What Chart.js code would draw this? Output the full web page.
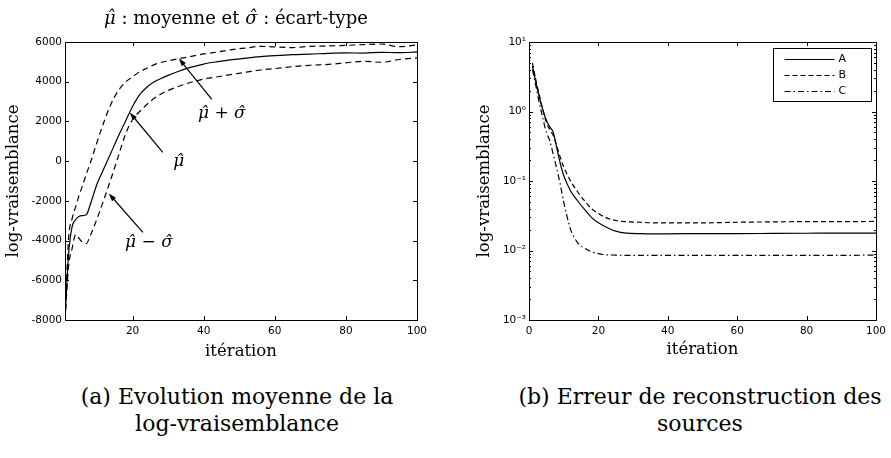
<!DOCTYPE html>
<html>
<head>
<meta charset="utf-8">
<script src="https://cdn.jsdelivr.net/npm/chart.js@4"></script>
<style>
  body { margin: 0; background: #fff; width: 891px; height: 458px; position: relative; overflow: hidden;
         font-family: "DejaVu Serif", serif; color: #000; }
  canvas { position: absolute; top: 0; }
  #chart-a { left: 0; }
  #chart-b { left: 445px; }
  .txt { position: absolute; text-align: center; white-space: nowrap; }
  #title { left: 0; width: 472px; top: 7px; font-size: 18px; line-height: 21px; }
  .cap { top: 383px; font-size: 22px; line-height: 27px; }
  #cap-a { left: 0; width: 474px; }
  #cap-b { left: 458px; width: 484px; }
</style>
</head>
<body>
<canvas id="chart-a" width="445" height="380"></canvas>
<canvas id="chart-b" width="446" height="380"></canvas>
<div id="title" class="txt"><i>μ̂</i> : moyenne et <i>σ̂</i> : écart-type</div>
<div id="cap-a" class="txt cap">(a) Evolution moyenne de la<br>log-vraisemblance</div>
<div id="cap-b" class="txt cap">(b) Erreur de reconstruction des<br>sources</div>
<script>
// (a) mean log-likelihood +/- std
const iterA = [1, 2, 3, 4, 5, 6, 7, 8, 10, 12, 14, 16, 18, 20, 22, 24, 26, 28, 30, 33, 36, 40,
  44, 48, 52, 56, 60, 65, 70, 75, 80, 85, 90, 95, 100];
const meanA = [-8000, -4700, -3300, -2950, -2780, -2740, -2700, -2250, -1150, -350, 450, 1250, 2000,
  2750, 3350, 3720, 3980, 4160, 4320, 4530, 4710, 4890, 5010, 5110, 5190, 5260, 5310, 5360, 5390,
  5430, 5450, 5440, 5480, 5460, 5500];
const upperA = [-8000, -3900, -2900, -2300, -1700, -1200, -650, -150, 950, 2000, 2900, 3550, 3980,
  4250, 4500, 4680, 4850, 4970, 5050, 5160, 5260, 5400, 5500, 5620, 5700, 5780, 5750, 5720, 5780,
  5800, 5830, 5870, 5900, 5760, 5850];
const lowerA = [-8000, -5300, -4400, -3700, -3900, -4100, -4150, -3800, -2900, -1900, -850, 250,
  1350, 2100, 2500, 2850, 3150, 3380, 3560, 3770, 3950, 4130, 4250, 4370, 4480, 4590, 4660, 4760,
  4830, 4870, 4950, 5030, 4980, 5120, 5200];
const xTicksA = [20, 40, 60, 80, 100];
const yTicksA = [-8000, -6000, -4000, -2000, 0, 2000, 4000, 6000];

// annotations of (a), in data units
const notesA = [
  { text: [["μ̂", 1], [" + ", 0], ["σ̂", 1]], at: [45.1, 2400], tail: [42.3, 3110], tip: [33.0, 5176] },
  { text: [["μ̂", 1]], at: [33.0, -15], tail: [28.5, 440], tip: [19.2, 2455] },
  { text: [["μ̂", 1], [" − ", 0], ["σ̂", 1]], at: [24.6, -4100], tail: [22.9, -3590], tip: [13.3, -1630] },
];

// (b) reconstruction error
const iterB = [1, 2, 3, 4, 5, 6, 7, 8, 9, 10, 12, 14, 16, 18, 20, 22, 25, 28, 32, 36, 40, 50, 60,
  70, 80, 90, 100];
const errA = [4.5, 2.6, 1.6, 1.05, 0.75, 0.6, 0.5, 0.3, 0.18, 0.12, 0.072, 0.052, 0.039, 0.03,
  0.025, 0.022, 0.019, 0.0178, 0.0175, 0.0174, 0.0174, 0.0175, 0.0175, 0.0176, 0.0177, 0.0178, 0.0178];
const errB = [5, 2.8, 1.7, 1.05, 0.7, 0.55, 0.45, 0.32, 0.22, 0.16, 0.1, 0.07, 0.052, 0.04, 0.034,
  0.03, 0.027, 0.026, 0.0255, 0.025, 0.025, 0.025, 0.0255, 0.0258, 0.026, 0.026, 0.0262];
const errC = [4, 2.3, 1.3, 0.8, 0.5, 0.38, 0.24, 0.15, 0.09, 0.05, 0.02, 0.013, 0.0108, 0.0096,
  0.009, 0.0087, 0.0086, 0.0085, 0.0085, 0.0085, 0.0085, 0.0085, 0.0085, 0.0085, 0.0085, 0.0085, 0.0086];
const namesB = ["A", "B", "C"];
const xTicksB = [0, 20, 40, 60, 80, 100];
const yTicksB = [0.001, 0.01, 0.1, 1, 10];
const yLabelsB = ["10⁻³", "10⁻²", "10⁻¹", "10⁰", "10¹"];

const tickFont = { family: "DejaVu Sans", size: 10.5 };
const labelFont = { family: "DejaVu Serif", size: 16.5 };

const pts = (xs, ys) => xs.map((x, i) => ({ x, y: ys[i] }));

const line = (label, data, dash) => ({
  label,
  data,
  borderColor: "#000",
  borderWidth: 1.2,
  borderDash: dash,
  pointRadius: 0,
  fill: false,
  cubicInterpolationMode: "monotone",
});

// box round the plot + inward ticks, matlab style
const frame = {
  id: "frame",
  afterDatasetsDraw(chart, args, opts) {
    const { ctx, chartArea: a, scales } = chart;
    ctx.save();
    ctx.strokeStyle = "#000";
    ctx.lineWidth = 1;
    ctx.strokeRect(Math.round(a.left) + 0.5, Math.round(a.top) + 0.5,
      Math.round(a.right - a.left), Math.round(a.bottom - a.top));
    ctx.beginPath();
    for (const t of scales.x.ticks) {
      const px = Math.round(scales.x.getPixelForValue(t.value)) + 0.5;
      ctx.moveTo(px, a.bottom); ctx.lineTo(px, a.bottom - 4);
      ctx.moveTo(px, a.top); ctx.lineTo(px, a.top + 4);
    }
    for (const t of scales.y.ticks) {
      const py = Math.round(scales.y.getPixelForValue(t.value)) + 0.5;
      ctx.moveTo(a.left, py); ctx.lineTo(a.left + 4, py);
      ctx.moveTo(a.right, py); ctx.lineTo(a.right - 4, py);
    }
    if (opts.minor) {
      for (let k = 0; k < yTicksB.length - 1; k++) {
        for (let m = 2; m < 10; m++) {
          const py = Math.round(scales.y.getPixelForValue(yTicksB[k] * m)) + 0.5;
          ctx.moveTo(a.left, py); ctx.lineTo(a.left + 2, py);
          ctx.moveTo(a.right, py); ctx.lineTo(a.right - 2, py);
        }
      }
    }
    ctx.stroke();
    ctx.restore();
  },
};

const arrows = {
  id: "arrows",
  afterDatasetsDraw(chart) {
    const { ctx, scales: { x, y } } = chart;
    ctx.save();
    ctx.strokeStyle = "#000";
    ctx.fillStyle = "#000";
    ctx.lineWidth = 1.2;
    for (const n of notesA) {
      const x0 = x.getPixelForValue(n.tail[0]), y0 = y.getPixelForValue(n.tail[1]);
      const x1 = x.getPixelForValue(n.tip[0]), y1 = y.getPixelForValue(n.tip[1]);
      const ang = Math.atan2(y1 - y0, x1 - x0);
      ctx.beginPath();
      ctx.moveTo(x0, y0);
      ctx.lineTo(x1 - 5 * Math.cos(ang), y1 - 5 * Math.sin(ang));
      ctx.stroke();
      ctx.beginPath();
      ctx.moveTo(x1, y1);
      ctx.lineTo(x1 - 8 * Math.cos(ang) + 2.6 * Math.sin(ang), y1 - 8 * Math.sin(ang) - 2.6 * Math.cos(ang));
      ctx.lineTo(x1 - 8 * Math.cos(ang) - 2.6 * Math.sin(ang), y1 - 8 * Math.sin(ang) + 2.6 * Math.cos(ang));
      ctx.closePath();
      ctx.fill();

      // label: italic symbols, upright operators
      const fontOf = (it) => (it ? "italic " : "") + "17px 'DejaVu Serif'";
      let w = 0;
      for (const [s, it] of n.text) { ctx.font = fontOf(it); w += ctx.measureText(s).width; }
      let cx = x.getPixelForValue(n.at[0]) - w / 2;
      const cy = y.getPixelForValue(n.at[1]);
      ctx.textBaseline = "middle";
      ctx.textAlign = "left";
      for (const [s, it] of n.text) {
        ctx.font = fontOf(it);
        ctx.fillText(s, cx, cy);
        cx += ctx.measureText(s).width;
      }
    }
    ctx.restore();
  },
};

const boxLegend = {
  id: "boxLegend",
  afterDatasetsDraw(chart) {
    const { ctx, chartArea: a } = chart;
    const w = 98, h = 53;
    const x0 = Math.round(a.right - 5 - w) + 0.5, y0 = Math.round(a.top + 6) + 0.5;
    ctx.save();
    ctx.fillStyle = "#fff";
    ctx.fillRect(x0, y0, w, h);
    ctx.strokeStyle = "#000";
    ctx.lineWidth = 1;
    ctx.strokeRect(x0, y0, w, h);
    chart.data.datasets.forEach((ds, i) => {
      const ry = Math.round(y0 + 10 + i * 16) + 0.5;
      ctx.setLineDash(ds.borderDash || []);
      ctx.lineWidth = ds.borderWidth;
      ctx.beginPath();
      ctx.moveTo(x0 + 11, ry);
      ctx.lineTo(x0 + 61, ry);
      ctx.stroke();
      ctx.setLineDash([]);
      ctx.fillStyle = "#000";
      ctx.font = "11px 'DejaVu Sans'";
      ctx.textBaseline = "middle";
      ctx.fillText(ds.label, x0 + 65, ry);
    });
    ctx.restore();
  },
};

new Chart(document.getElementById("chart-a"), {
  type: "line",
  data: {
    datasets: [
      line("mu", pts(iterA, meanA), []),
      line("mu+sigma", pts(iterA, upperA), [6, 4]),
      line("mu-sigma", pts(iterA, lowerA), [6, 4]),
    ],
  },
  options: {
    responsive: false,
    animation: false,
    devicePixelRatio: 1,
    layout: { padding: { top: 42, right: 28, left: 0, bottom: 0 } },
    plugins: { legend: { display: false }, tooltip: { enabled: false }, frame: {} },
    scales: {
      x: {
        type: "linear", min: 1, max: 100,
        grid: { display: false, drawTicks: false }, border: { display: false },
        afterBuildTicks: (s) => { s.ticks = xTicksA.map((v) => ({ value: v })); },
        afterFit: (s) => { s.height = 60; },
        ticks: { color: "#000", font: tickFont, padding: 5, maxRotation: 0 },
        title: { display: true, text: "itération", color: "#000", font: labelFont, padding: { top: 0, bottom: 18 } },
      },
      y: {
        min: -8000, max: 6000,
        grid: { display: false, drawTicks: false }, border: { display: false },
        afterBuildTicks: (s) => { s.ticks = yTicksA.map((v) => ({ value: v })); },
        afterFit: (s) => { s.width = 65; },
        ticks: { color: "#000", font: tickFont, padding: 3, callback: (v) => String(v) },
        title: { display: true, text: "log-vraisemblance", color: "#000", font: labelFont, padding: { top: 4, bottom: 0 } },
      },
    },
  },
  plugins: [frame, arrows],
});

new Chart(document.getElementById("chart-b"), {
  type: "line",
  data: {
    datasets: [
      line(namesB[0], pts(iterB, errA), []),
      line(namesB[1], pts(iterB, errB), [5, 3]),
      line(namesB[2], pts(iterB, errC), [6, 3, 1.5, 3]),
    ],
  },
  options: {
    responsive: false,
    animation: false,
    devicePixelRatio: 1,
    layout: { padding: { top: 42, right: 11, left: 0, bottom: 0 } },
    plugins: { legend: { display: false }, tooltip: { enabled: false }, frame: { minor: true } },
    scales: {
      x: {
        type: "linear", min: 0, max: 100,
        grid: { display: false, drawTicks: false }, border: { display: false },
        afterBuildTicks: (s) => { s.ticks = xTicksB.map((v) => ({ value: v })); },
        afterFit: (s) => { s.height = 60; },
        ticks: { color: "#000", font: tickFont, padding: 5, maxRotation: 0 },
        title: { display: true, text: "itération", color: "#000", font: labelFont, padding: { top: 0, bottom: 20 } },
      },
      y: {
        type: "logarithmic", min: 0.001, max: 10,
        grid: { display: false, drawTicks: false }, border: { display: false },
        afterBuildTicks: (s) => { s.ticks = yTicksB.map((v) => ({ value: v })); },
        afterFit: (s) => { s.width = 84; },
        ticks: { color: "#000", font: tickFont, padding: 3, callback: (v, i) => yLabelsB[i] },
        title: { display: true, text: "log-vraisemblance", color: "#000", font: labelFont, padding: { top: 30, bottom: 0 } },
      },
    },
  },
  plugins: [frame, boxLegend],
});
</script>
</body>
</html>
